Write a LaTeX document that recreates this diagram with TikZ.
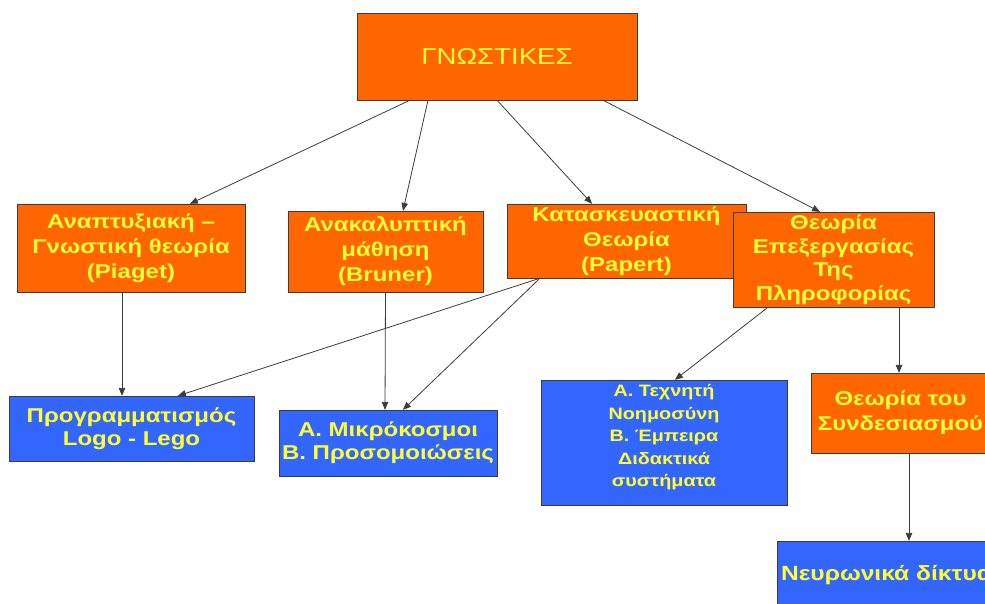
\documentclass[tikz,border=0pt]{standalone}
\usepackage{fontspec}
\setmainfont[FakeStretch=1.2]{Liberation Sans}
\usetikzlibrary{arrows}

\definecolor{boxorange}{RGB}{255,102,0}
\definecolor{boxblue}{RGB}{51,102,255}
\definecolor{boxtext}{RGB}{255,255,51}
\definecolor{linegray}{RGB}{60,60,60}

\tikzset{
	theorybox/.style={draw=linegray,fill=boxorange,text=boxtext,align=center,
		inner sep=0pt,font=\bfseries\fontsize{20}{25}\selectfont},
	appbox/.style={theorybox,fill=boxblue},
	link/.style={-triangle 45,draw=linegray,line width=0.8pt}
}

\begin{document}
\begin{tikzpicture}[x=1pt,y=1pt]
	\useasboundingbox (0,0) rectangle (985,-604);
	\clip (0,0) rectangle (985,-604);
	\fill[white] (0,0) rectangle (985,-604);

	%% top node
	\node [theorybox, minimum width=280pt, minimum height=87pt,
		font=\fontsize{23}{28}\selectfont] (cogn) at (497,-56.5) {ΓΝΩΣΤΙΚΕΣ};

	%% theories
	\node [theorybox, minimum width=228pt, minimum height=88pt] (piaget) at (131,-248)
		{Αναπτυξιακή –\\Γνωστική θεωρία\\(Piaget)};
	\node [theorybox, minimum width=195pt, minimum height=81pt] (bruner) at (385.5,-251.5)
		{Ανακαλυπτική\\μάθηση\\(Bruner)};
	\node [theorybox, minimum width=239pt, minimum height=74pt] (papert) at (626.5,-241)
		{Κατασκευαστική\\Θεωρία\\(Papert)};
	\node [theorybox, minimum width=201pt, minimum height=95pt,
		font=\bfseries\fontsize{20}{23.5}\selectfont] (info) at (833.5,-259.5)
		{Θεωρία\\Επεξεργασίας\\Της\\Πληροφορίας};

	%% applications
	\node [appbox, minimum width=245pt, minimum height=65pt,
		font=\bfseries\fontsize{20}{23}\selectfont] (logo) at (131.5,-428.5)
		{Προγραμματισμός\\Logo - Lego};
	\node [appbox, minimum width=218pt, minimum height=66pt,
		font=\bfseries\fontsize{20}{23}\selectfont] (micro) at (388,-443)
		{Α. Μικρόκοσμοι\\Β. Προσομοιώσεις};
	\node [appbox, minimum width=246pt, minimum height=125pt, text depth=14pt,
		font=\bfseries\fontsize{16.5}{22.5}\selectfont] (ai) at (664,-442.5)
		{Α. Τεχνητή\\Νοημοσύνη\\Β. Έμπειρα\\Διδακτικά\\συστήματα};
	\node [theorybox, minimum width=179pt, minimum height=80pt] (connect) at (900.5,-413)
		{Θεωρία του\\Συνδεσιασμού};
	\node [appbox, minimum height=69pt, align=left, text width=250pt,
		inner xsep=4pt, font=\bfseries\fontsize{20.5}{25}\selectfont] (neural) at (906,-575.5)
		{Νευρωνικά δίκτυα};

	%% connectors
	\draw [link] ([xshift=-87pt]cogn.south) -- ([xshift=59pt]piaget.north);
	\draw [link] ([xshift=-69pt]cogn.south) -- ([xshift=17.5pt]bruner.north);
	\draw [link] (cogn.south) -- ([xshift=-34.5pt]papert.north);
	\draw [link] ([xshift=106pt]cogn.south) -- ([xshift=-13.5pt]info.north);

	\draw [link] ([xshift=-9pt]piaget.south) -- ([xshift=-9.5pt]logo.north);
	\draw [link] (bruner.south) -- ([xshift=-3pt]micro.north);
	\draw [link] ([xshift=-86.5pt]papert.south) -- ([xshift=46.5pt]logo.north);
	\draw [link] ([xshift=-86.5pt]papert.south) -- ([xshift=15pt]micro.north);
	\draw [link] ([xshift=-65.5pt]info.south) -- ([xshift=11pt]ai.north);
	\draw [link] ([xshift=65.5pt]info.south) -- ([xshift=-1.5pt]connect.north);
	\draw [link] ([xshift=8.5pt]connect.south) -- ([xshift=3pt]neural.north);

\end{tikzpicture}
\end{document}
